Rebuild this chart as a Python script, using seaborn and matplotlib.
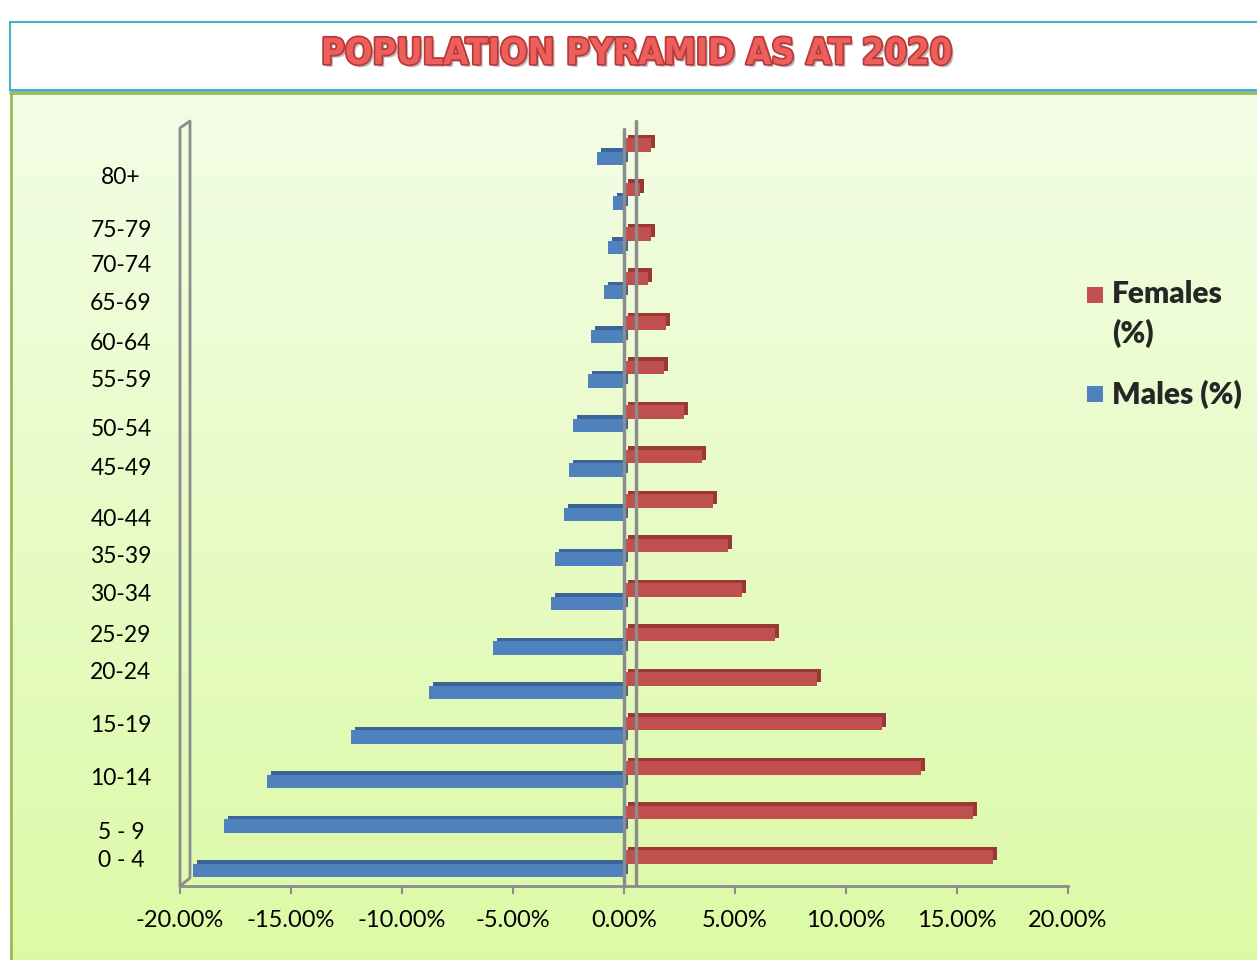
import numpy as np
import pandas as pd
import matplotlib
matplotlib.use("Agg")
import matplotlib.pyplot as plt
import matplotlib.patheffects as pe
from matplotlib import transforms
from matplotlib.patches import Rectangle
from matplotlib.lines import Line2D
from matplotlib.colors import LinearSegmentedColormap
from matplotlib.ticker import FuncFormatter
import seaborn as sns

# ---------------------------------------------------------------------------
# Data (percent of population), youngest group first
# ---------------------------------------------------------------------------
ages = ["0 - 4", "5 - 9", "10-14", "15-19", "20-24", "25-29", "30-34", "35-39",
        "40-44", "45-49", "50-54", "55-59", "60-64", "65-69", "70-74", "75-79", "80+"]
females = [16.6, 15.7, 13.4, 11.6, 8.7, 6.8, 5.3, 4.7,
           4.0, 3.5, 2.7, 1.8, 1.9, 1.1, 1.2, 0.7, 1.2]
males = [19.4, 18.0, 16.1, 12.3, 8.8, 5.9, 3.3, 3.1,
         2.7, 2.5, 2.3, 1.6, 1.5, 0.9, 0.7, 0.5, 1.2]
x_ticks = [-20, -15, -10, -5, 0, 5, 10, 15, 20]

# layout: where the (loosely placed) age labels sit, in pixels from the top
label_y_px = [858, 830, 776, 723, 670, 633, 592, 554,
              517, 466, 427, 378, 341, 301, 263, 228, 175]

W, H = 1257, 960
AX_TOP, AX_BOTTOM = 125, 886
YLIM = (16.5, -0.6)
RED, BLUE = "#c0504d", "#4f81bd"
GREY = "#8c8c8c"


def fx(x):
    return x / W


def fy(y):
    return 1 - y / H


def px_to_data_y(ypx):
    frac = (ypx - AX_TOP) / (AX_BOTTOM - AX_TOP)
    return YLIM[1] + frac * (YLIM[0] - YLIM[1])


df = pd.DataFrame({
    "Age": ages * 2,
    "Sex": ["Females (%)"] * len(ages) + ["Males (%)"] * len(ages),
    "Value": females + [-m for m in males],
})

sns.set_theme(style="white")
plt.rcParams["font.family"] = ["Lato", "DejaVu Sans"]

fig = plt.figure(figsize=(W / 100, H / 100), dpi=100)
fig.patch.set_facecolor("white")

# ---------------------------------------------------------------------------
# Background panel + title box
# ---------------------------------------------------------------------------
bg = fig.add_axes([fx(10), 0, 1 - fx(10), fy(94)], zorder=-10)
grad = np.linspace(0, 1, 256).reshape(-1, 1)
bg.imshow(grad, aspect="auto", extent=[0, 1, 0, 1], origin="upper",
          cmap=LinearSegmentedColormap.from_list("g", ["#f3fde6", "#dcfaa6"]))
bg.axis("off")

fig.patches.append(Rectangle((fx(10), fy(90)), 1, fy(22) - fy(90), transform=fig.transFigure,
                             facecolor="white", edgecolor="#4bacc6", linewidth=1.5, zorder=-5))
fig.lines.append(Line2D([fx(10), 1], [fy(90), fy(90)], transform=fig.transFigure,
                        color="#4bacc6", lw=2))
fig.lines.append(Line2D([fx(10), 1], [fy(92.5), fy(92.5)], transform=fig.transFigure,
                        color="#9bbb59", lw=2))
fig.lines.append(Line2D([fx(10.5), fx(10.5)], [0, fy(93)], transform=fig.transFigure,
                        color="#9bbb59", lw=2))

fig.text(fx(637), fy(54), "POPULATION PYRAMID AS AT 2020", ha="center", va="center",
         fontsize=26, fontweight="bold", fontstretch="condensed", color="#ec5f5b",
         family=["Liberation Sans Narrow", "DejaVu Sans"],
         path_effects=[pe.withSimplePatchShadow(offset=(2, -2), shadow_rgbFace="#777777", alpha=0.5),
                       pe.withStroke(linewidth=2.5, foreground="#b8383a")])

# ---------------------------------------------------------------------------
# Main pyramid
# ---------------------------------------------------------------------------
ax = fig.add_axes([fx(180), fy(AX_BOTTOM), fx(1068) - fx(180), fy(AX_TOP) - fy(AX_BOTTOM)])
ax.patch.set_alpha(0)

sns.barplot(data=df, x="Value", y="Age", hue="Sex", order=ages[::-1],
            hue_order=["Females (%)", "Males (%)"], palette=[RED, BLUE],
            orient="h", width=0.6, saturation=1, legend=False, linewidth=0, ax=ax)

ax.set_xlim(-20, 20)
ax.set_ylim(*YLIM)

# fake 3D depth: darker copy of every bar pushed up and to the right
depth = transforms.ScaledTranslation(4 / 100, 3.5 / 100, fig.dpi_scale_trans)
for p in list(ax.patches):
    col = "#9a3836" if p.get_x() + p.get_width() > 0 else "#3b6598"
    ax.add_patch(Rectangle((p.get_x(), p.get_y()), p.get_width(), p.get_height(),
                           transform=ax.transData + depth, facecolor=col,
                           linewidth=0, zorder=0.8))
    p.set_zorder(1)

# zero lines (back and front of the 3D plane)
for xp, top in [(624, 129), (636, 121)]:
    fig.lines.append(Line2D([fx(xp), fx(xp)], [fy(884), fy(top)], transform=fig.transFigure,
                            color=GREY, lw=2.5, zorder=0.5))

# side wall
fig.lines.append(Line2D([fx(180), fx(180), fx(190), fx(190), fx(180)],
                        [fy(886), fy(128), fy(121), fy(878), fy(886)],
                        transform=fig.transFigure, color=GREY, lw=2))

for side in ["top", "right", "left"]:
    ax.spines[side].set_visible(False)
ax.spines["bottom"].set_color(GREY)
ax.spines["bottom"].set_linewidth(2)

ax.set_xticks(x_ticks)
ax.xaxis.set_major_formatter(FuncFormatter(lambda v, _: f"{v:.2f}%"))
ax.tick_params(axis="x", direction="out", length=6, width=1.5, color=GREY,
               labelsize=17, labelcolor="black", pad=11, bottom=True)

ax.set_yticks([px_to_data_y(y) for y in label_y_px])
ax.set_yticklabels(ages)
ax.tick_params(axis="y", length=0, labelsize=16.5, labelcolor="black", pad=42.5)
for t in ax.get_yticklabels():
    t.set_horizontalalignment("center")

ax.set_xlabel("")
ax.set_ylabel("")

# ---------------------------------------------------------------------------
# Legend
# ---------------------------------------------------------------------------
for ypx, col in [(287, RED), (386, BLUE)]:
    fig.patches.append(Rectangle((fx(1087), fy(ypx + 16)), fx(16), 16 / H,
                                 transform=fig.transFigure, facecolor=col, linewidth=0))
legend_font = dict(ha="left", va="center", fontsize=21.5, fontweight="heavy")
fig.text(fx(1112), fy(294), "Females", **legend_font)
fig.text(fx(1112), fy(333), "(%)", **legend_font)
fig.text(fx(1112), fy(394), "Males (%)", **legend_font)

fig.savefig("out.png", dpi=100)
